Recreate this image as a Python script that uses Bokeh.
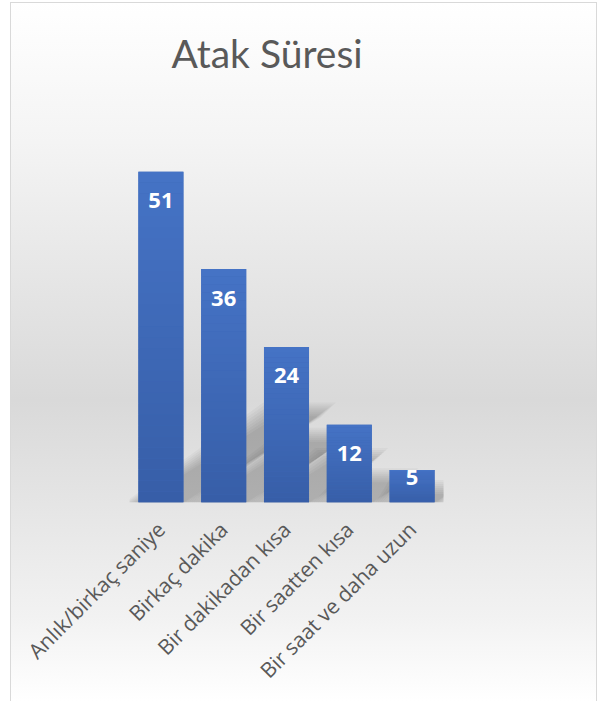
import math
from bokeh.plotting import figure
from bokeh.models import FactorRange, Range1d
from bokeh.core.properties import value
from bokeh.embed import file_html
from bokeh.resources import INLINE

# ---- data ----
categories = ["Anlık/birkaç saniye", "Birkaç dakika", "Bir dakikadan kısa",
              "Bir saatten kısa", "Bir saat ve daha uzun"]
counts = [51, 36, 24, 12, 5]
title_text = "Atak Süresi"

# ---- layout ----
W, H = 587, 699
FL, FR = 119, 433     # frame left/right (canvas px)
FT, FB = 98, 500      # frame top/bottom (canvas px)
Y_MAX = 62
BAR_W = 0.717
kx = (FR - FL) / len(categories)
ky = (FB - FT) / Y_MAX

p = figure(width=W, height=H,
           x_range=FactorRange(factors=categories, range_padding=0),
           y_range=Range1d(0, Y_MAX),
           output_backend="svg", toolbar_location=None,
           min_border_left=FL, min_border_right=W - FR,
           min_border_top=FT, min_border_bottom=H - FB,
           margin=(2, 0, 0, 10),
           styles={"background": "linear-gradient(to bottom, #ffffff 0%, #f4f4f4 20%, #d9d9d9 57%, #f2f2f2 88%, #ffffff 100%)",
                   "box-shadow": "inset 1px 1px 0 #d9d9d9, inset -1px 0 0 #d9d9d9"})
p.background_fill_alpha = 0
p.border_fill_alpha = 0
p.outline_line_color = None
p.xgrid.visible = False
p.ygrid.visible = False
p.yaxis.visible = False

# ---- title ----
p.title.text = title_text
p.title.text_font = "Lato"
p.title.text_font_size = "39px"
p.title.text_font_style = "normal"
p.title.text_color = "#595959"
p.title.align = "left"
p.title.offset = 42
p.title.standoff = 50

# ---- shadows (perspective, up-right, soft) ----
S_SHEAR, C_SCALE = 0.42, 0.26
sh_xs, sh_ys = [], []
for blur in range(0, 16, 2):
    for i, v in enumerate(counts):
        cx = i + 0.5
        x0, x1 = cx - BAR_W / 2, cx + BAR_W / 2
        hpx = v * ky
        dx = S_SHEAR * hpx / kx
        dy = C_SCALE * v
        e = blur / kx
        ey = blur / ky
        sh_xs.append([x0 - e, x1 + e, x1 + dx + e, x0 + dx - e])
        sh_ys.append([0, 0, dy + ey, dy + ey])
p.patches(sh_xs, sh_ys, fill_color="black", fill_alpha=0.03, line_color=None)

# ---- bars with vertical gradient ----
top_rgb = (69, 115, 197)
bot_rgb = (55, 94, 168)
mid_hex = "#%02x%02x%02x" % tuple((a + b) // 2 for a, b in zip(top_rgb, bot_rgb))
p.vbar(x=categories, top=counts, width=BAR_W, fill_color=mid_hex, line_color=None)
N = 30
bx, bb, bt, bc = [], [], [], []
for c, v in zip(categories, counts):
    for k in range(N):
        f = (k + 0.5) / N
        col = tuple(int(round(bot_rgb[j] + (top_rgb[j] - bot_rgb[j]) * f)) for j in range(3))
        bx.append(c)
        bb.append(v * k / N)
        bt.append(v * (k + 1) / N)
        bc.append("#%02x%02x%02x" % col)
p.vbar(x=bx, bottom=bb, top=bt, width=BAR_W, fill_color=bc, line_color=None)

# ---- data labels ----
lab_y = []
for v in counts:
    off = 29 if v * ky > 60 else 7
    lab_y.append(v - off / ky)
p.text(x=categories, y=lab_y, text=[str(v) for v in counts],
       text_font=value("Open Sans"), text_font_style="bold", text_font_size="22px",
       text_color="white", text_align="center", text_baseline="middle")

# ---- x axis ----
ax = p.xaxis[0]
ax.axis_line_color = None
ax.major_tick_line_color = None
ax.minor_tick_line_color = None
ax.major_label_orientation = math.pi / 4
ax.major_label_text_font = "Open Sans"
ax.major_label_text_font_size = "21px"
ax.major_label_text_color = "#595959"
ax.major_label_standoff = 17

open("out.html", "w").write(file_html(p, INLINE))
